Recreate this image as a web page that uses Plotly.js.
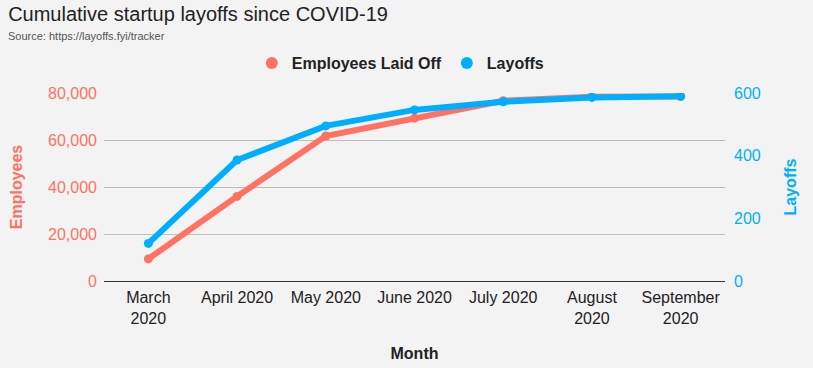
<!DOCTYPE html>
<html>
<head>
<meta charset="utf-8">
<script src="https://cdn.plot.ly/plotly-3.0.1.min.js"></script>
<style>html,body{margin:0;padding:0;background:#f3f3f3;}#chart{width:813px;height:368px;}</style>
</head>
<body>
<div id="chart"></div>
<script>
const months = ["March 2020", "April 2020", "May 2020", "June 2020", "July 2020", "August 2020", "September 2020"];
const monthLabels = ["March<br>2020", "April 2020", "May 2020", "June 2020", "July 2020", "August<br>2020", "September<br>2020"];
const employeesLaidOff = [9400, 36000, 61700, 69300, 76700, 78400, 78500];
const layoffs = [120, 386, 495, 546, 572, 586, 590];

const salmon = "#ff7262";
const blue = "#00aeff";
const font = "Liberation Sans, Arial, sans-serif";

const traces = [
  {x: months, y: employeesLaidOff, name: "Employees Laid Off", mode: "lines+markers", yaxis: "y",
   line: {color: salmon, width: 6}, marker: {color: salmon, size: 9}, showlegend: false},
  {x: months, y: layoffs, name: "Layoffs", mode: "lines+markers", yaxis: "y2",
   line: {color: blue, width: 6}, marker: {color: blue, size: 9}, showlegend: false},
  {x: [null], y: [null], name: "Employees Laid Off", mode: "markers", marker: {color: salmon, size: 12}},
  {x: [null], y: [null], name: "Layoffs", mode: "markers", yaxis: "y2", marker: {color: blue, size: 12}}
];

const plotW = 813 - 104 - 88, plotH = 368 - 93 - 87;

const layout = {
  width: 813, height: 368,
  paper_bgcolor: "#f3f3f3", plot_bgcolor: "#f3f3f3",
  font: {family: font, color: "#222"},
  margin: {l: 104, r: 88, t: 93, b: 87},
  title: {text: "Cumulative startup layoffs since COVID-19", x: 0.01, xref: "container", xanchor: "left",
          y: 0.962, yref: "container", yanchor: "middle", font: {size: 20, color: "#222", family: font}},
  annotations: [{text: "Source: https://layoffs.fyi/tracker", xref: "paper", yref: "paper",
                 x: (6 - 104) / plotW, y: (281 - 36) / plotH, xanchor: "left", yanchor: "middle",
                 showarrow: false, font: {size: 11, color: "#555", family: font}}],
  showlegend: true,
  legend: {orientation: "h", xref: "container", yref: "container", x: 0.493, xanchor: "center",
           y: 1 - 63/368, yanchor: "middle", font: {size: 16, color: "#222", family: font, weight: "bold"},
           bgcolor: "rgba(0,0,0,0)", itemwidth: 20},
  xaxis: {type: "category", tickvals: months, ticktext: monthLabels, range: [-0.5, 6.5],
          tickfont: {size: 16, color: "#222"}, showgrid: false, ticks: "", showline: false,
          ticklabelstandoff: 5,
          title: {text: "Month", font: {size: 16, color: "#222", weight: "bold"}, standoff: 22}},
  yaxis: {range: [0, 80000], tickvals: [0, 20000, 40000, 60000, 80000], tickformat: ",",
          tickfont: {size: 16, color: salmon}, gridcolor: "#bdbdbd", gridwidth: 1,
          zeroline: true, zerolinecolor: "#333", zerolinewidth: 1, ticks: "", ticklabelstandoff: 6,
          title: {text: "Employees", font: {size: 16, color: salmon, weight: "bold"}, standoff: 21}},
  yaxis2: {range: [0, 600], tickvals: [0, 200, 400, 600], overlaying: "y", side: "right",
           tickfont: {size: 16, color: blue}, showgrid: false, zeroline: false, ticks: "", ticklabelstandoff: 8,
           title: {text: "Layoffs", font: {size: 16, color: blue, weight: "bold"}, standoff: 25}}
};

Plotly.newPlot("chart", traces, layout, {displayModeBar: false, staticPlot: true});
</script>
</body>
</html>
